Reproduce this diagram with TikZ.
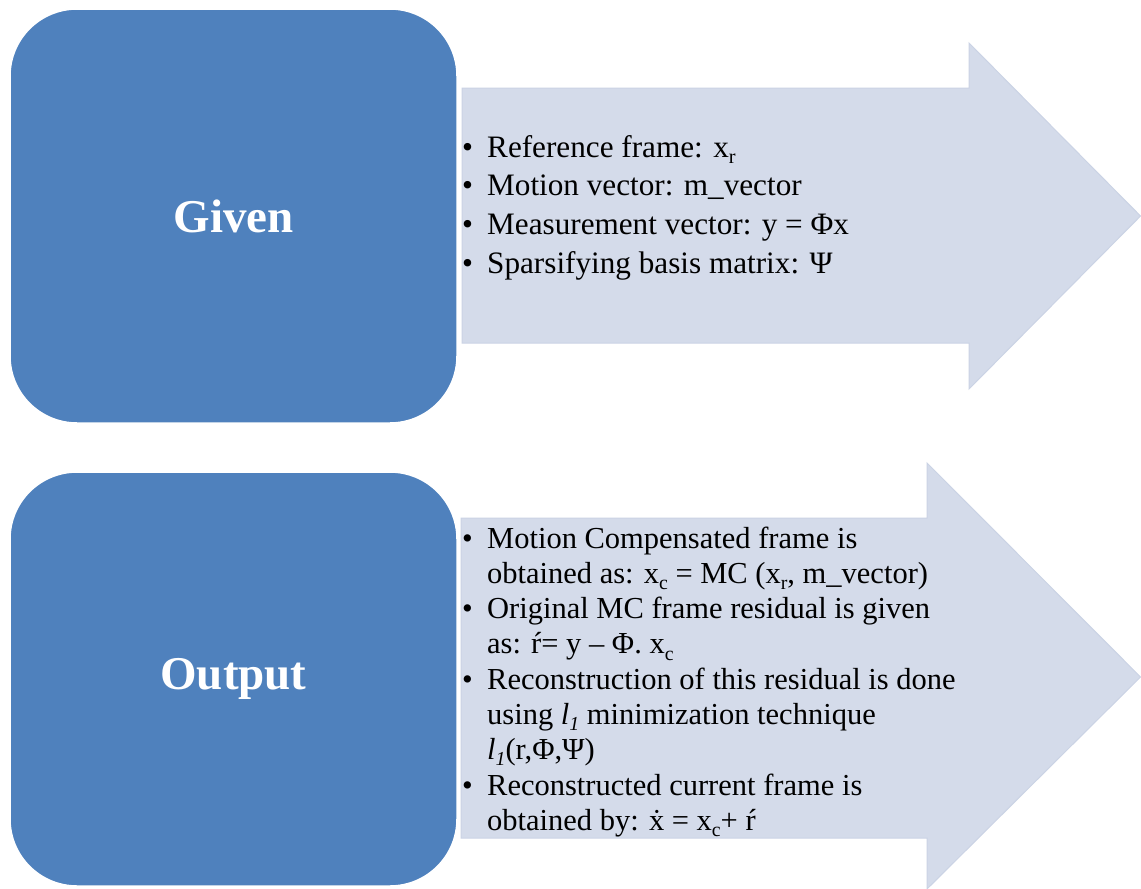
\documentclass[tikz,border=0pt]{standalone}
\usepackage{fontspec}
\setmainfont{Liberation Serif}

\definecolor{boxblue}{RGB}{79,129,189}
\definecolor{arrowfill}{RGB}{212,219,234}
\definecolor{arrowline}{RGB}{203,211,229}

% bullet with hanging indent, and the indent of continuation lines
\newcommand\bul{\makebox[25pt][l]{\textbullet}}
\newcommand\cont{\hspace*{25pt}}
% low-set subscript
\newcommand\sub[1]{\raisebox{-0.2em}{\scalebox{0.65}{#1}}}

\begin{document}
\begin{tikzpicture}[x=1pt,y=-1pt,
  headbox/.style={fill=boxblue, draw=white, line width=1.5pt,
    rounded corners=67pt, minimum width=447pt, minimum height=414pt,
    inner sep=0pt, text=white,
    font=\fontsize{47}{56}\selectfont\bfseries},
  arrowshape/.style={fill=arrowfill, draw=arrowline, line width=1pt},
  listtext/.style={anchor=base west, inner sep=0pt, text=black}]

\useasboundingbox (0,0) rectangle (1141,889);
\fill[white] (0,0) rectangle (1141,889);

% block arrows
\draw[arrowshape] (462,88) -- (969,88) -- (969,43) -- (1140.5,216)
  -- (969,389) -- (969,343) -- (462,343) -- cycle;
\draw[arrowshape] (461,518) -- (927,518) -- (927,463) -- (1140.5,677)
  -- (927,889) -- (927,838) -- (461,838) -- cycle;

% heading boxes
\node[headbox] (given) at (233.5,216) {Given};
\node[headbox] (output) at (233.5,679) {Output};

% bullet lists
\node[listtext] (givenlist) at (462,157) {\parbox[t]{520pt}{%
  \fontsize{31.2}{38.7}\selectfont
  \bul Reference frame: x\sub{r}\\
  \bul Motion vector: m\_vector\\
  \bul Measurement vector: y = Φx\\
  \bul Sparsifying basis matrix: Ψ}};

\node[listtext] (outputlist) at (462,548) {\parbox[t]{560pt}{%
  \fontsize{30.5}{35.3}\selectfont
  \bul Motion Compensated frame is\\
  \cont obtained as: x\sub{c} = MC (x\sub{r}, m\_vector)\\
  \bul Original MC frame residual is given\\
  \cont as: ŕ= y – Φ. x\sub{c}\\
  \bul Reconstruction of this residual is done\\
  \cont using \textit{l}\sub{\textit{1}} minimization technique\\
  \cont \textit{l}\sub{\textit{1}}(r,Φ,Ψ)\\
  \bul Reconstructed current frame is\\
  \cont obtained by: \.{x} = x\sub{c}+ ŕ}};
\end{tikzpicture}
\end{document}
